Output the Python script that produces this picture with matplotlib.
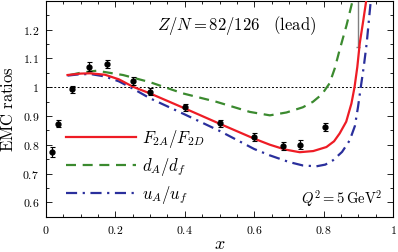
import numpy as np
import matplotlib
matplotlib.use('Agg')
import matplotlib.pyplot as plt
from matplotlib.ticker import MultipleLocator, FuncFormatter

plt.rcParams['mathtext.fontset'] = 'cm'
plt.rcParams['font.family'] = 'serif'
plt.rcParams['font.serif'] = ['DejaVu Serif']

# data points (x, ratio, error)
data_x = [0.016, 0.034, 0.074, 0.125, 0.175, 0.251, 0.301, 0.400, 0.500, 0.600, 0.683, 0.733, 0.803]
data_y = [0.775, 0.873, 0.992, 1.071, 1.080, 1.021, 0.984, 0.930, 0.874, 0.826, 0.796, 0.800, 0.860]
data_err = [0.018, 0.013, 0.012, 0.015, 0.015, 0.013, 0.012, 0.012, 0.012, 0.014, 0.014, 0.015, 0.014]

# F2A/F2D
f2_x = [0.062, 0.10, 0.127, 0.17, 0.21, 0.251, 0.30, 0.40, 0.50, 0.60, 0.645, 0.69, 0.731, 0.77,
        0.808, 0.83, 0.846, 0.865, 0.88, 0.889, 0.897, 0.904, 0.914, 0.923, 0.93]
f2_y = [1.042, 1.047, 1.048, 1.043, 1.027, 1.001, 0.978, 0.926, 0.873, 0.821, 0.800, 0.783, 0.774, 0.778,
        0.792, 0.812, 0.839, 0.880, 0.943, 1.000, 1.070, 1.152, 1.230, 1.303, 1.37]

# dA/df
d_x = [0.069, 0.10, 0.146, 0.222, 0.30, 0.395, 0.491, 0.587, 0.645, 0.693, 0.74, 0.769, 0.795,
       0.817, 0.832, 0.846, 0.866, 0.884, 0.89]
d_y = [1.042, 1.050, 1.057, 1.042, 1.017, 0.978, 0.949, 0.914, 0.902, 0.912, 0.930, 0.949, 0.975,
       1.013, 1.065, 1.129, 1.215, 1.303, 1.34]

# uA/uf
u_x = [0.062, 0.10, 0.13, 0.17, 0.21, 0.25, 0.30, 0.40, 0.50, 0.60, 0.645, 0.70, 0.74, 0.779,
       0.805, 0.827, 0.853, 0.875, 0.89, 0.899, 0.907, 0.916, 0.924, 0.936, 0.94]
u_y = [1.040, 1.045, 1.045, 1.037, 1.020, 0.995, 0.961, 0.905, 0.848, 0.785, 0.763, 0.740, 0.728, 0.725,
       0.731, 0.746, 0.775, 0.815, 0.865, 0.931, 1.000, 1.075, 1.152, 1.303, 1.35]

# off-scale error bar near x = 0.9
grey_x = [0.899]
grey_lo = [1.138]

fig = plt.figure(figsize=(3.98, 2.52), dpi=100)
ax = fig.add_axes([0.1156, 0.140, 0.872, 0.856])

ax.axhline(1.0, color='black', lw=0.7, ls=(0, (2, 2)), zorder=1)
ax.vlines(grey_x, grey_lo, [1.5], color='#808080', lw=1.0, zorder=2)
ax.hlines(grey_lo, [x - 0.006 for x in grey_x], [x + 0.006 for x in grey_x], color='#808080', lw=1.0)

ax.plot(f2_x, f2_y, color='#ee1c25', lw=1.6, label=r'$F_{2A}/F_{2D}$', zorder=4)
ax.plot(d_x, d_y, color='#3b8a2f', lw=1.6, ls=(0, (4.5, 3)), label=r'$d_A/d_f$', zorder=3)
ax.plot(u_x, u_y, color='#2a2f9c', lw=1.6, ls=(0, (5, 2.5, 1, 2.5)), label=r'$u_A/u_f$', zorder=3)

ax.errorbar(data_x, data_y, yerr=data_err, fmt='o', color='black', ms=3.5, lw=0.8,
            capsize=1.8, capthick=0.8, zorder=5)

ax.set_xlim(0, 1)
ax.set_ylim(0.55, 1.299)
ax.xaxis.set_major_locator(MultipleLocator(0.2))
ax.xaxis.set_minor_locator(MultipleLocator(0.05))
ax.yaxis.set_major_locator(MultipleLocator(0.1))
ax.yaxis.set_minor_locator(MultipleLocator(0.05))
ax.tick_params(which='both', direction='in', top=True, right=True, labelsize=8.5, pad=5)
ax.tick_params(which='major', length=4, width=0.6)
ax.tick_params(which='minor', length=2, width=0.6)
for s in ax.spines.values():
    s.set_linewidth(0.8)


def fmt(v, pos):
    if abs(v - round(v)) < 1e-9:
        return r'$%d$' % round(v)
    return r'$%g$' % round(v, 2)


ax.xaxis.set_major_formatter(FuncFormatter(fmt))
ax.yaxis.set_major_formatter(FuncFormatter(fmt))

ax.set_xlabel(r'$x$', fontsize=13, labelpad=-1)
ax.set_ylabel(r'$\mathrm{EMC\ ratios}$', fontsize=12, labelpad=4)

ax.text(0.32, 0.885, r'$Z/N = 82/126\quad(\mathrm{lead})$', transform=ax.transAxes,
        fontsize=12, va='center')
ax.text(0.97, 0.082, r'$Q^2 = 5\,\mathrm{GeV}^2$', transform=ax.transAxes, fontsize=10.5,
        ha='right', va='center')

ax.legend(loc='lower left', bbox_to_anchor=(0.025, 0.0), frameon=False, fontsize=12,
          handlelength=4.2, handletextpad=0.4, labelspacing=0.35, borderaxespad=0.25)

fig.savefig('out.png', dpi=100)
